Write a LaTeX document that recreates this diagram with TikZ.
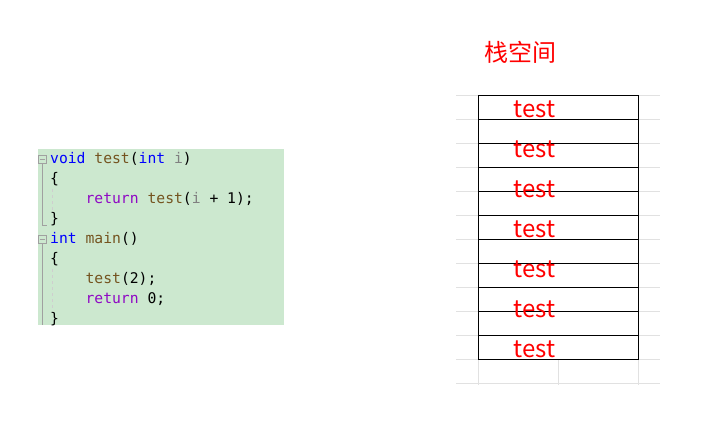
\documentclass[tikz,border=0pt]{standalone}
\usepackage{fontspec}
\setmonofont{DejaVu Sans Mono}
\newfontfamily\cjk{Noto Sans CJK SC}
\usetikzlibrary{calc}
\definecolor{codebg}{RGB}{204,232,207}
\definecolor{kwblue}{RGB}{0,0,255}
\definecolor{fnbrown}{RGB}{116,83,31}
\definecolor{parmgray}{RGB}{128,128,128}
\definecolor{ctlpurple}{RGB}{143,8,196}
\definecolor{gridgray}{RGB}{225,225,225}
\definecolor{foldgray}{RGB}{160,160,160}

\begin{document}
\begin{tikzpicture}[x=1pt,y=-1pt,
  codeline/.style={anchor=base west,inner sep=0pt,font=\ttfamily\fontsize{14.7}{18}\selectfont},
  foldbox/.style={draw=foldgray,fill=codebg,minimum size=8pt,inner sep=0pt,line width=0.7pt},
  guide/.style={foldgray,line width=0.8pt},
  indent/.style={gridgray!80!gray,dash pattern=on 3pt off 3pt,line width=0.7pt},
  cell/.style={draw,fill=white,minimum width=159.5pt,minimum height=24pt,inner sep=0pt,line width=0.9pt},
  frame/.style={anchor=base,inner sep=0pt,red,font=\cjk\fontsize{24}{28}\selectfont},
  title/.style={inner sep=0pt,red,font=\cjk\fontsize{24}{28}\selectfont}]
\useasboundingbox (0,0) rectangle (706,421);
% Code panel
\fill[codebg] (37.5,149) rectangle (283.5,325);
\node[codeline] (l1) at (50,163) {\textcolor{kwblue}{void} \textcolor{fnbrown}{test}(\textcolor{kwblue}{int} \textcolor{parmgray}{i})};
\node[codeline] (l2) at (50,183) {\{};
\node[codeline] (l3) at (50,203) {\phantom{xxxx}\textcolor{ctlpurple}{return} \textcolor{fnbrown}{test}(\textcolor{parmgray}{i} + 1);};
\node[codeline] (l4) at (50,223) {\}};
\node[codeline] (l5) at (50,243) {\textcolor{kwblue}{int} \textcolor{fnbrown}{main}()};
\node[codeline] (l6) at (50,263) {\{};
\node[codeline] (l7) at (50,283) {\phantom{xxxx}\textcolor{fnbrown}{test}(2);};
\node[codeline] (l8) at (50,303) {\phantom{xxxx}\textcolor{ctlpurple}{return} 0;};
\node[codeline] (l9) at (50,323) {\}};
% Fold markers and guides
\coordinate (end1) at (47,225);
\coordinate (end2) at (42.5,325);
\draw[guide] (42.5,163.5) |- (end1);
\draw[guide] (42.5,243.5) -- (end2);
\node[foldbox] (fold1) at (42.5,159) {};
\node[foldbox] (fold2) at (42.5,239) {};
\draw[guide] ([xshift=1.8pt]fold1.west) -- ([xshift=-1.8pt]fold1.east);
\draw[guide] ([xshift=1.8pt]fold2.west) -- ([xshift=-1.8pt]fold2.east);
\draw[indent] (52.7,189) -- (52.7,213);
\draw[indent] (52.7,269) -- (52.7,309);
% Sheet grid behind the stack
\foreach \k in {0,...,12}
  \draw[gridgray,line width=0.9pt] (456,95.3+24*\k) -- (660,95.3+24*\k);
\foreach \gx in {478.5,558,638}
  \draw[gridgray,line width=0.9pt] (\gx,359.3) -- (\gx,385);
% Stack cells
\foreach \i in {0,...,10}
  \node[cell] (cell\i) at (558.25,107.3+24*\i) {};
% Frame labels
\foreach \j in {0,...,6}
  \node[frame] (frame\j) at (534.5,117+40*\j) {test};
\node[title] (stack) at (520,52.5) {栈空间};
\end{tikzpicture}
\end{document}
